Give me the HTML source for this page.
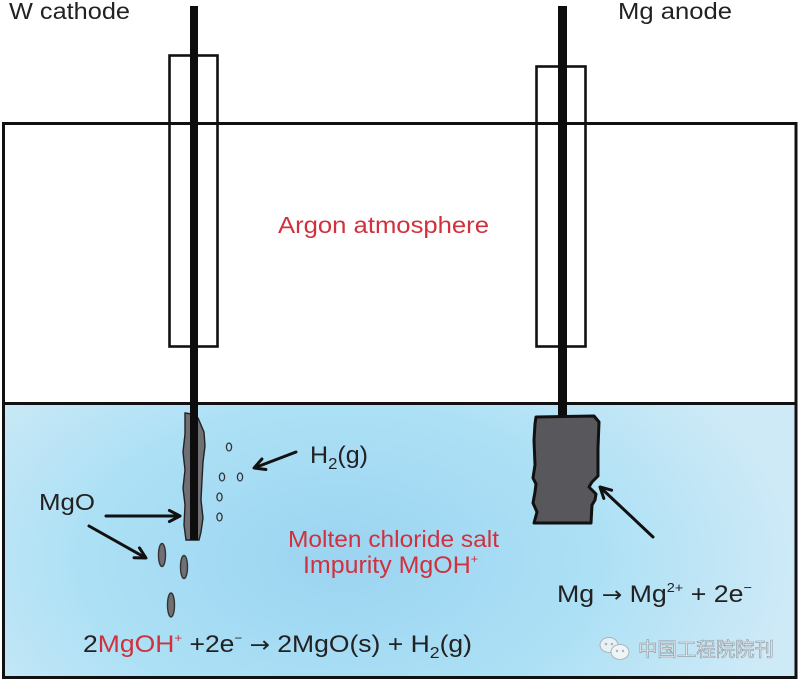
<!DOCTYPE html>
<html><head><meta charset="utf-8">
<style>
html,body{margin:0;padding:0;background:#fff;}
svg{display:block;}
text{font-family:"Liberation Sans",Arial,sans-serif;}
</style></head>
<body>
<svg width="800" height="682" viewBox="0 0 800 682" xmlns="http://www.w3.org/2000/svg">
<defs>
<radialGradient id="liq" cx="340" cy="560" r="460" gradientUnits="userSpaceOnUse" gradientTransform="translate(340 560) scale(1 0.6) translate(-340 -560)">
<stop offset="0" stop-color="#9bd4f1"/>
<stop offset="0.55" stop-color="#ace0f5"/>
<stop offset="1" stop-color="#cfeaf7"/>
</radialGradient>
</defs>
<rect width="800" height="682" fill="#fff"/>
<!-- liquid -->
<rect x="4" y="404" width="792" height="274" fill="url(#liq)"/>
<!-- outer box -->
<rect x="3.5" y="123.5" width="792.5" height="554" fill="none" stroke="#111" stroke-width="3"/>
<line x1="3" y1="403.5" x2="796" y2="403.5" stroke="#111" stroke-width="3"/>
<!-- sleeves -->
<rect x="169.5" y="55.5" width="48" height="291" fill="none" stroke="#111" stroke-width="2.6"/>
<rect x="536.5" y="66.5" width="49" height="280" fill="none" stroke="#111" stroke-width="2.6"/>

<!-- cathode deposit -->
<path d="M185,413 L192,414 L198,418 L204,432 L205,446 L203,462 L202,480 L201,500 L203,518 L201,532 L199,540 L186,540 L184,525 L185,505 L183,488 L185,470 L183,452 L185,434 Z" fill="#707074" stroke="#222" stroke-width="1.4"/>
<!-- rods -->
<rect x="190" y="6" width="8" height="534" fill="#0d0d0d"/>
<rect x="558" y="6" width="9" height="412" fill="#0d0d0d"/>

<!-- anode block -->
<path d="M536,417 L594,416 L599,422 L598,448 L598,476 L592,482 L589,487 L596,494 L595,500 L592,505 L591,523 L534,523 L537,512 L533,503 L535,492 L536,484 L533,478 L535,465 L534,440 L535,424 Z" fill="#58585c" stroke="#111" stroke-width="3" stroke-linejoin="round"/>

<!-- bubbles -->
<g fill="none" stroke="#333" stroke-width="1.3">
<ellipse cx="229" cy="447" rx="2.6" ry="4"/>
<ellipse cx="222" cy="477" rx="2.6" ry="4"/>
<ellipse cx="240" cy="477" rx="2.6" ry="4"/>
<ellipse cx="219.5" cy="497" rx="2.6" ry="4"/>
<ellipse cx="219.5" cy="517" rx="2.6" ry="4"/>
</g>
<!-- falling MgO -->
<g fill="#707074" stroke="#333" stroke-width="1.4">
<ellipse cx="162" cy="555" rx="3.5" ry="11.5"/>
<ellipse cx="184" cy="567" rx="3.5" ry="11.5"/>
<ellipse cx="171" cy="605" rx="3.5" ry="12"/>
</g>

<!-- arrows -->
<g stroke="#111" stroke-width="3" fill="none" stroke-linecap="round" stroke-linejoin="round">
<line x1="106" y1="516" x2="179" y2="516"/>
<polyline points="169.4,510.4 180,516 169.4,521.6"/>
<line x1="89" y1="526" x2="145" y2="557.5"/>
<polyline points="139.5,547.9 146,558 134,557.7"/>
<line x1="296" y1="452" x2="255" y2="467.6"/>
<polyline points="265.9,469.5 254,468 261.9,459"/>
<line x1="653" y1="537" x2="601" y2="488"/>
<polyline points="603.8,498.4 600,487 611.6,490.2"/>
</g>

<!-- labels -->
<g font-size="23" fill="#222">
<text x="9" y="19" textLength="121" lengthAdjust="spacingAndGlyphs">W cathode</text>
<text x="618" y="19" textLength="114" lengthAdjust="spacingAndGlyphs">Mg anode</text>
<text x="39" y="510" textLength="56" lengthAdjust="spacingAndGlyphs">MgO</text>
<text x="310" y="463" font-size="24" textLength="58" lengthAdjust="spacingAndGlyphs">H<tspan font-size="16" dy="6">2</tspan><tspan dy="-6">(g)</tspan></text>
</g>
<g font-size="23" fill="#d1303c">
<text x="278" y="233" textLength="211" lengthAdjust="spacingAndGlyphs">Argon atmosphere</text>
<text x="288" y="547" textLength="211" lengthAdjust="spacingAndGlyphs">Molten chloride salt</text>
<text x="303" y="573" font-size="24" textLength="175" lengthAdjust="spacingAndGlyphs">Impurity MgOH<tspan font-size="12" dy="-10">+</tspan></text>
</g>
<!-- equation -->
<text x="83" y="652" font-size="24" fill="#222" textLength="389" lengthAdjust="spacingAndGlyphs">2<tspan fill="#d1303c">MgOH</tspan><tspan fill="#d1303c" font-size="12" dy="-10">+</tspan><tspan dy="10"> +2e</tspan><tspan font-size="12" dy="-10">−</tspan><tspan dy="10"> </tspan><tspan style="font-family:'DejaVu Sans',sans-serif" font-size="22">→</tspan><tspan> 2MgO(s) + H</tspan><tspan font-size="16" dy="6">2</tspan><tspan dy="-6">(g)</tspan></text>
<text x="557" y="602" font-size="24" fill="#222" textLength="195" lengthAdjust="spacingAndGlyphs">Mg <tspan style="font-family:'DejaVu Sans',sans-serif" font-size="22">→</tspan> Mg<tspan font-size="13" dy="-10">2+</tspan><tspan dy="10"> + 2e</tspan><tspan font-size="13" dy="-10">−</tspan></text>

<!-- watermark -->
<g opacity="0.9">
<ellipse cx="609" cy="645" rx="9" ry="7.5" fill="#eef3f5" stroke="#a8b0b5" stroke-width="1"/>
<ellipse cx="620" cy="652" rx="9" ry="7.5" fill="#f4f7f8" stroke="#a8b0b5" stroke-width="1"/>
<circle cx="606" cy="644" r="1.3" fill="#a8b0b5"/>
<circle cx="612" cy="644" r="1.3" fill="#a8b0b5"/>
<circle cx="617" cy="651" r="1.2" fill="#a8b0b5"/>
<circle cx="623" cy="651" r="1.2" fill="#a8b0b5"/>
</g>
<text x="638" y="656" font-size="19.5" fill="#e4eaee" stroke="#8f979c" stroke-width="0.6" style="font-family:'Liberation Sans','Noto Sans CJK SC',sans-serif" textLength="136" lengthAdjust="spacingAndGlyphs">中国工程院院刊</text>
</svg>
</body></html>
